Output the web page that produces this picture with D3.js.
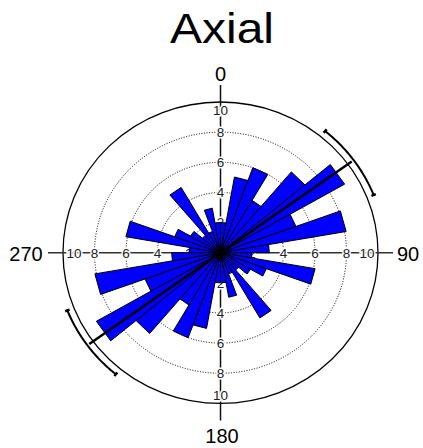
<!DOCTYPE html>
<html><head><meta charset="utf-8">
<script src="https://cdn.jsdelivr.net/npm/d3@7"></script>
<style>html,body{margin:0;padding:0;background:#fff;}svg{display:block;}</style>
</head><body>
<script>
// Data: axial rose diagram, 10-degree bins over 0-180 (mirrored to 180-360)
const binStarts = [0,10,20,30,40,50,60,70,80,90,100,110,120,130,140,150,160,170];
const binCounts = [2.0,5.1,6.0,4.0,7.0,9.1,5.1,8.1,3.1,2.0,6.1,3.1,2.2,1.5,5.0,1.5,3.0,2.0];
const binWidth = 10;
const ringValues = [2,4,6,8];
const tickLabels = [2,4,6,8,10];
const directionLabels = ["0","90","180","270"];
const meanDirection = 54;
const ciLow = 39.5, ciHigh = 68.5;
const title = "Axial";

const W = 423, H = 448;
const cx = 220.5, cy = 252.7, RX = 157.5, RY = 150.7;
const svg = d3.select("body").append("svg").attr("width", W).attr("height", H);
const font = "'Liberation Sans', Arial, sans-serif";

const rx = d3.scaleLinear().domain([0,10]).range([0,RX]);
const ry = d3.scaleLinear().domain([0,10]).range([0,RY]);
const ang = d3.scaleLinear().domain([0,360]).range([0,2*Math.PI]);
function pt(r, deg){ const a = ang(deg); return [cx + rx(r)*Math.sin(a), cy - ry(r)*Math.cos(a)]; }

svg.append("text").attr("x", 222).attr("y", 43).attr("text-anchor","middle")
  .attr("font-family", font).attr("font-size", 42).attr("fill","#000")
  .attr("textLength", 104).attr("lengthAdjust","spacingAndGlyphs").text(title);

// rings
svg.selectAll("ellipse.ring").data(ringValues).enter().append("ellipse")
  .attr("cx", cx).attr("cy", cy).attr("rx", d=>rx(d)).attr("ry", d=>ry(d))
  .attr("fill","none").attr("stroke","#000").attr("stroke-width",1).attr("stroke-dasharray","1,1.6");
svg.append("ellipse").attr("cx", cx).attr("cy", cy).attr("rx", rx(10)).attr("ry", ry(10))
  .attr("fill","none").attr("stroke","#000").attr("stroke-width",1.3);

// axes
svg.append("line").attr("x1", cx).attr("x2", cx).attr("y1", cy - ry(10) - 17).attr("y2", cy + ry(10) + 17)
  .attr("stroke","#111").attr("stroke-width",1.5);
svg.append("line").attr("y1", cy).attr("y2", cy).attr("x1", cx - rx(10) - 15).attr("x2", cx + rx(10) + 15)
  .attr("stroke","#333").attr("stroke-width",1.5);

// tick labels
const tl = [];
tickLabels.forEach(v => {
  const dx = v === 10 ? rx(10) - 11 : rx(v);
  const dy = v === 10 ? ry(10) - 8.5 : ry(v);
  tl.push({t:v, x:cx, y:cy - dy}, {t:v, x:cx, y:cy + dy}, {t:v, x:cx - dx, y:cy}, {t:v, x:cx + dx, y:cy});
});
svg.selectAll("text.tick").data(tl).enter().append("text")
  .attr("x", d=>d.x).attr("y", d=>d.y + 4.8).attr("text-anchor","middle")
  .attr("font-family", font).attr("font-size", 13.5).attr("fill","#222")
  .attr("stroke","#fff").attr("stroke-width",3).attr("paint-order","stroke")
  .text(d=>d.t);

// bars (mirrored)
const bars = [];
binStarts.forEach((s,i) => { bars.push({s:s, v:binCounts[i]}); bars.push({s:s+180, v:binCounts[i]}); });
svg.selectAll("path.bar").data(bars).enter().append("path")
  .attr("d", d => { const p1 = pt(d.v, d.s), p2 = pt(d.v, d.s + binWidth); return `M${cx},${cy}L${p1[0]},${p1[1]}L${p2[0]},${p2[1]}Z`; })
  .attr("fill","#0000ff").attr("stroke","#000").attr("stroke-width",1).attr("stroke-linejoin","miter");

// mean direction line (axial)
const m1 = pt(10.3, meanDirection), m2 = pt(10.3, meanDirection + 180);
svg.append("line").attr("x1", m1[0]).attr("y1", m1[1]).attr("x2", m2[0]).attr("y2", m2[1])
  .attr("stroke","#000").attr("stroke-width",2.5);

// confidence arcs
[0,180].forEach(off => {
  const pts = d3.range(ciLow, ciHigh + 0.01, 0.5).map(a => pt(10.45, a + off));
  svg.append("path").attr("d", d3.line()(pts)).attr("fill","none").attr("stroke","#000").attr("stroke-width",2);
  [ciLow, ciHigh].forEach(a => {
    const q1 = pt(10.3, a + off), q2 = pt(10.6, a + off);
    svg.append("line").attr("x1", q1[0]).attr("y1", q1[1]).attr("x2", q2[0]).attr("y2", q2[1])
      .attr("stroke","#000").attr("stroke-width",2.5);
  });
});

// direction labels
const dl = [
  {t:directionLabels[0], x:cx, y:81},
  {t:directionLabels[1], x:408, y:261},
  {t:directionLabels[2], x:222, y:443},
  {t:directionLabels[3], x:26, y:261}
];
svg.selectAll("text.dir").data(dl).enter().append("text")
  .attr("x", d=>d.x).attr("y", d=>d.y).attr("text-anchor","middle")
  .attr("font-family", font).attr("font-size", 20).attr("fill","#000").text(d=>d.t);
</script>
</body></html>
